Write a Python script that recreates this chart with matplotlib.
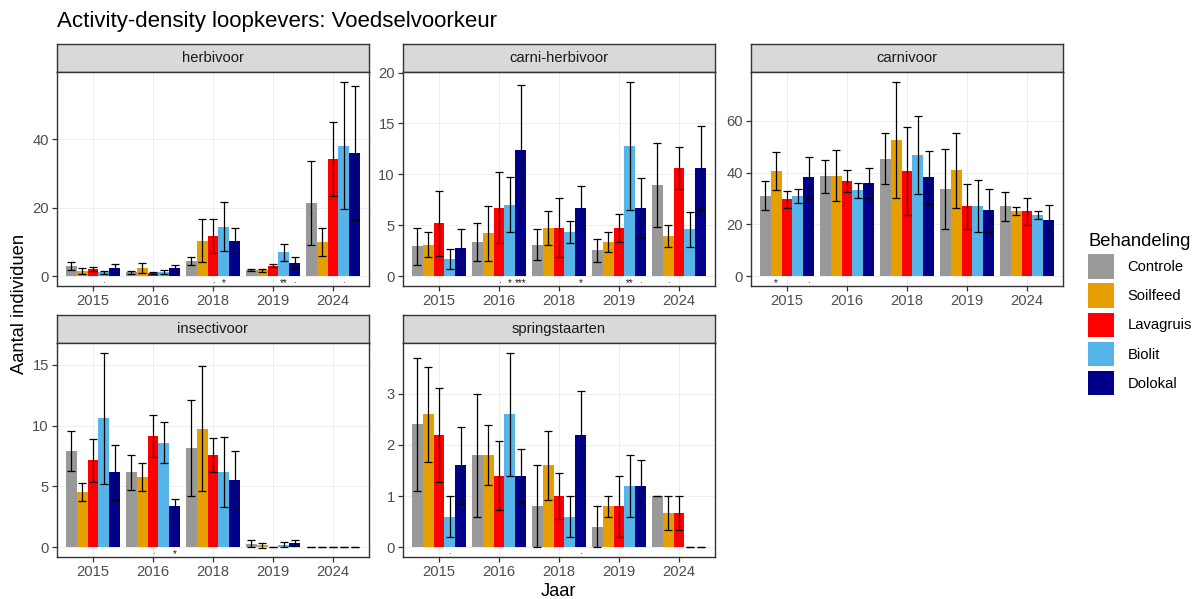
import matplotlib
matplotlib.use("Agg")
import numpy as np
import matplotlib.pyplot as plt
from matplotlib.patches import Patch

plt.rcParams["font.family"] = ["Liberation Sans", "DejaVu Sans"]

years = ["2015", "2016", "2018", "2019", "2024"]
treatments = ["Controle", "Soilfeed", "Lavagruis", "Biolit", "Dolokal"]
colors = ["#999999", "#E69F00", "#FF0000", "#56B4E9", "#00008B"]

# rows = years, columns = treatments (mean and standard error)
herb_mean = [[3.0, 1.5, 2.0, 1.1, 2.5],
             [1.1, 2.4, 1.0, 1.3, 2.4],
             [4.5, 10.4, 11.7, 14.5, 10.4],
             [1.7, 1.7, 3.1, 7.0, 3.9],
             [21.3, 10.0, 34.2, 38.1, 36.0]]
herb_se = [[1.2, 0.9, 0.6, 0.4, 1.1],
           [0.4, 1.5, 0.3, 0.6, 0.9],
           [1.2, 6.2, 4.9, 7.2, 3.7],
           [0.3, 0.5, 0.4, 2.5, 1.6],
           [12.3, 4.0, 10.7, 18.6, 19.6]]
herb_sig = [(0, 3, "."), (2, 2, "."), (2, 3, "*"), (3, 3, "**"), (3, 4, "."), (4, 3, ".")]

ch_mean = [[2.95, 3.1, 5.2, 1.7, 2.8],
           [3.35, 4.2, 6.75, 7.0, 12.4],
           [3.1, 4.75, 4.75, 4.35, 6.75],
           [2.55, 3.35, 4.75, 12.8, 6.7],
           [8.95, 3.95, 10.65, 4.6, 10.65]]
ch_se = [[1.8, 1.25, 3.2, 1.0, 1.85],
         [1.85, 2.7, 3.45, 2.7, 6.4],
         [1.5, 1.65, 2.9, 1.1, 2.15],
         [1.1, 0.95, 1.4, 6.3, 2.95],
         [4.1, 1.05, 2.05, 1.75, 4.1]]
ch_sig = [(1, 2, "."), (1, 3, "*"), (1, 4, "***"), (2, 4, "*"), (3, 3, "**"), (3, 4, "."), (4, 1, ".")]

carn_mean = [[31.1, 40.5, 29.7, 31.0, 38.1],
             [38.5, 38.8, 36.6, 33.2, 35.9],
             [45.4, 52.6, 40.6, 46.8, 38.1],
             [33.7, 40.8, 27.0, 27.0, 25.4],
             [27.0, 25.2, 25.0, 23.6, 21.7]]
carn_se = [[5.5, 7.3, 3.3, 2.6, 8.0],
           [6.4, 9.7, 4.3, 2.9, 5.9],
           [10.0, 22.4, 16.8, 15.0, 10.2],
           [15.4, 14.3, 8.6, 10.0, 8.4],
           [5.5, 1.4, 5.3, 1.4, 5.7]]
carn_sig = [(0, 1, "*"), (0, 4, ".")]

ins_mean = [[7.95, 4.55, 7.15, 10.6, 6.15],
            [6.15, 5.75, 9.15, 8.6, 3.4],
            [8.15, 9.75, 7.55, 6.2, 5.55],
            [0.3, 0.15, 0.0, 0.2, 0.35],
            [0.0, 0.0, 0.0, 0.0, 0.0]]
ins_se = [[1.65, 0.75, 1.75, 5.4, 2.25],
          [1.45, 1.15, 1.7, 1.7, 0.6],
          [3.95, 5.15, 1.4, 2.9, 2.4],
          [0.3, 0.2, 0.0, 0.2, 0.25],
          [0.0, 0.0, 0.0, 0.0, 0.0]]
ins_sig = [(1, 2, "."), (1, 4, "*")]

spr_mean = [[2.4, 2.6, 2.2, 0.6, 1.6],
            [1.8, 1.8, 1.4, 2.6, 1.4],
            [0.8, 1.6, 1.0, 0.6, 2.2],
            [0.4, 0.8, 0.8, 1.2, 1.2],
            [1.0, 0.67, 0.67, 0.0, 0.0]]
spr_se = [[1.3, 0.93, 0.92, 0.4, 0.75],
          [1.2, 0.58, 0.68, 1.2, 0.52],
          [0.8, 0.67, 0.45, 0.4, 0.86],
          [0.4, 0.2, 0.6, 0.6, 0.5],
          [0.0, 0.33, 0.33, 0.0, 0.0]]
spr_sig = [(0, 3, "."), (2, 4, ".")]

W, H = 1201, 599
fig = plt.figure(figsize=(W / 100, H / 100), dpi=100)

SMALL = 10.6   # tick labels, strip text, legend labels
BIG = 13.2     # axis titles, legend title


def px_axes(x0, y0, x1, y1):
    return fig.add_axes([x0 / W, 1 - y1 / H, (x1 - x0) / W, (y1 - y0) / H])


def draw_panel(x0, x1, y0, y1, label, mean, se, sig, yticks):
    strip = px_axes(x0, y0 - 28, x1, y0)
    strip.set_facecolor("#D9D9D9")
    strip.set_xticks([])
    strip.set_yticks([])
    for sp in strip.spines.values():
        sp.set_color("#333333")
        sp.set_linewidth(1.0)
    strip.text(0.5, 0.5, label, ha="center", va="center", fontsize=SMALL,
               color="#1A1A1A", transform=strip.transAxes)

    ax = px_axes(x0, y0, x1, y1)
    mean = np.asarray(mean)
    se = np.asarray(se)
    x = np.arange(len(years))
    w = 0.18
    for j, c in enumerate(colors):
        xs = x + (j - 2) * w
        ax.bar(xs, mean[:, j], width=w, color=c, zorder=2)
        ax.errorbar(xs, mean[:, j], yerr=se[:, j], fmt="none", ecolor="black",
                    elinewidth=0.9, capsize=2.7, capthick=0.9, zorder=3)
    # significance marks just below the zero line
    for yi, ti, lab in sig:
        if lab == ".":
            va, dy = "baseline", -4.5
        else:
            va, dy = "top", -1.5
        ax.annotate(lab, (yi + (ti - 2) * w, 0), xytext=(0, dy),
                    textcoords="offset points", ha="center", va=va,
                    fontsize=7, color="#1A1A1A")
    top = (mean + se).max()
    ax.set_ylim(-0.05 * top, 1.05 * top)
    ax.set_xlim(-0.6, len(years) - 0.4)
    ax.set_xticks(x)
    ax.set_xticklabels(years)
    ax.set_yticks(yticks)
    ax.grid(True, color="#EBEBEB", lw=0.6, zorder=0)
    ax.set_axisbelow(True)
    ax.tick_params(length=3.3, width=0.9, color="#333333", labelcolor="#4D4D4D",
                   labelsize=SMALL, pad=2.5)
    for sp in ax.spines.values():
        sp.set_color("#333333")
        sp.set_linewidth(1.0)
        sp.set_zorder(4)
    return ax


draw_panel(57, 369, 72, 286, "herbivoor", herb_mean, herb_se, herb_sig, [0, 20, 40])
draw_panel(403, 715, 72, 286, "carni-herbivoor", ch_mean, ch_se, ch_sig, [0, 5, 10, 15, 20])
draw_panel(751, 1063, 72, 286, "carnivoor", carn_mean, carn_se, carn_sig, [0, 20, 40, 60])
draw_panel(57, 369, 343, 557, "insectivoor", ins_mean, ins_se, ins_sig, [0, 5, 10, 15])
draw_panel(403, 715, 343, 557, "springstaarten", spr_mean, spr_se, spr_sig, [0, 1, 2, 3])

fig.text(57 / W, 1 - 21 / H, "Activity-density loopkevers: Voedselvoorkeur",
         fontsize=16, ha="left", va="center")
fig.text(19 / W, 1 - 304 / H, "Aantal individuen", rotation=90, fontsize=BIG,
         ha="center", va="center")
fig.text(558 / W, 1 - 591 / H, "Jaar", fontsize=BIG, ha="center", va="center")

handles = [Patch(facecolor=c, edgecolor="none") for c in colors]
leg = fig.legend(handles, treatments, loc="upper left",
                 bbox_to_anchor=(1088 / W, 1 - 233 / H), frameon=False,
                 title="Behandeling", title_fontsize=BIG, fontsize=SMALL,
                 handlelength=1.75, handleheight=2.2, labelspacing=0.3,
                 handletextpad=0.95, borderpad=0, borderaxespad=0)
leg._legend_box.align = "left"

fig.savefig("out.png", dpi=100)
